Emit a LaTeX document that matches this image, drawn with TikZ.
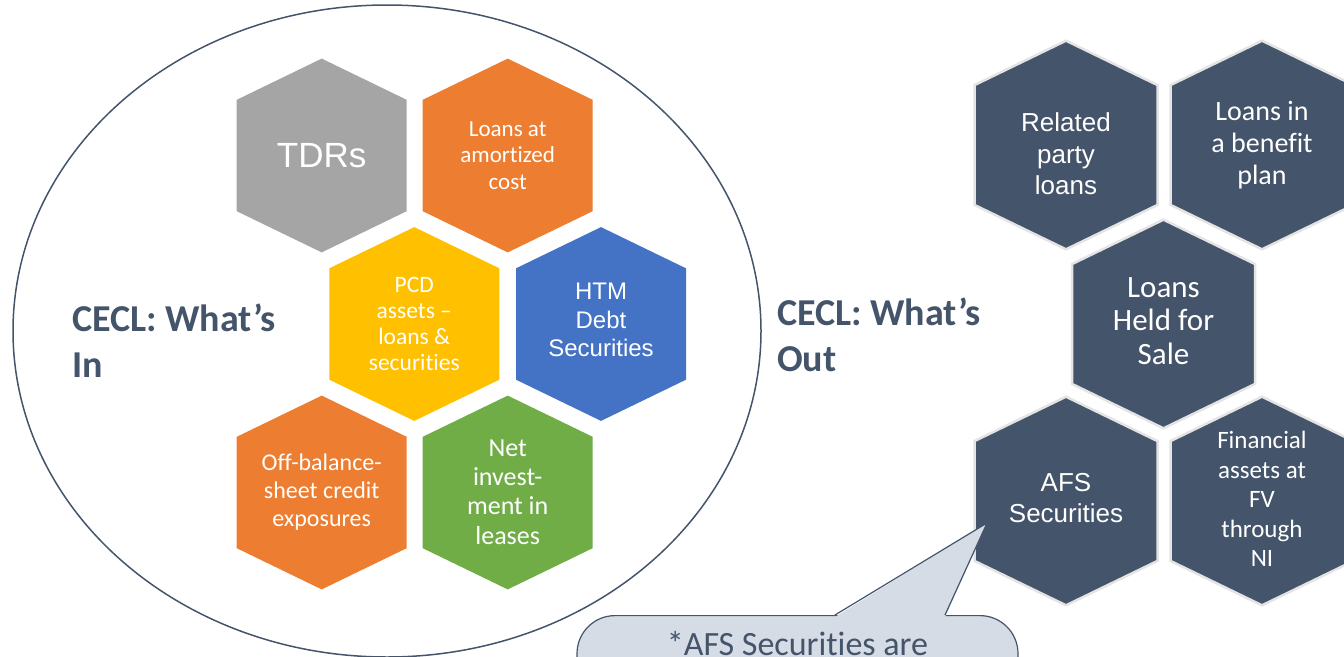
\documentclass[tikz,border=0pt]{standalone}
\usepackage{fontspec}
\setmainfont{Carlito}[Ligatures={TeX,NoCommon}]
\newfontfamily\arialfont{Liberation Sans}
\usepackage{xcolor}
\definecolor{slate}{RGB}{68,84,106}
\definecolor{tdrgrey}{RGB}{165,165,165}
\definecolor{tangerine}{RGB}{237,125,49}
\definecolor{amber}{RGB}{255,192,0}
\definecolor{steel}{RGB}{68,114,196}
\definecolor{leaf}{RGB}{112,173,71}
\definecolor{mist}{RGB}{214,220,229}
\definecolor{rim}{RGB}{228,228,228}
\usetikzlibrary{positioning}

% pointy-topped cell around a centre, #2 = half width
\newcommand{\hexcell}[2]{(#1) +(0,-1.14*#2) -- +(#2,-0.655*#2) -- +(#2,0.655*#2)
  -- +(0,1.14*#2) -- +(-#2,0.655*#2) -- +(-#2,-0.655*#2) -- cycle}
\newcommand{\fsz}[2]{\fontsize{#1}{#2}\selectfont}

\begin{document}
\begin{tikzpicture}[x=1pt, y=-1pt,
  celltext/.style={text=white, align=center, inner sep=0pt},
  outcell/.style={fill=slate, draw=rim, line width=2.5pt},
  heading/.style={text=slate, font=\bfseries\fsz{38}{46}, align=left, inner sep=0pt, anchor=west},
  ring/.style={draw=slate, line width=1.5pt},
  notebox/.style={fill=mist, draw=slate, line width=1.2pt, rounded corners=38pt, anchor=north,
    minimum width=441pt, text=slate, font=\fsz{34}{40}, text height=26pt, text depth=60pt, inner ysep=14pt}
]
\useasboundingbox (0,0) rectangle (1344,656);

% what is in
\draw[ring] (387,331) ellipse [x radius=374pt, y radius=326pt];
\node[heading] (inlabel) at (72,341) {CECL: What’s\\In};

\fill[tdrgrey] \hexcell{321.7,155.5}{85};
\fill[tangerine] \hexcell{507.7,155.5}{85};
\fill[amber] \hexcell{414.3,324}{85};
\fill[steel] \hexcell{601,324}{85};
\fill[tangerine] \hexcell{321.7,492.5}{85};
\fill[leaf] \hexcell{507.7,492.5}{85};

\node[celltext, font=\arialfont\fsz{35}{40}] (tdr) at (321.7,155.5) {TDRs};
\node[celltext, font=\fsz{23}{26.3}] (amort) at (507.7,155.5) {Loans at\\amortized\\cost};
\node[celltext, font=\fsz{23.5}{26.3}] (pcd) at (414.3,324) {PCD\\assets –\\loans \&\\securities};
\node[celltext, font=\arialfont\fsz{24}{28.2}] (htm) at (601,320) {HTM\\Debt\\Securities};
\node[celltext, font=\fsz{24}{28.3}] (offbs) at (321.7,492) {Off-balance-\\sheet credit\\exposures};
\node[celltext, font=\fsz{26}{29.3}] (lease) at (507.7,492) {Net\\invest-\\ment in\\leases};

% what is out
\node[heading] (outlabel) at (777,335) {CECL: What’s\\Out};

\path[outcell] \hexcell{1066,145}{91.5};
\path[outcell] \hexcell{1262,145}{91.5};
\path[outcell] \hexcell{1163.5,324}{91.5};
\path[outcell] \hexcell{1066,501}{91.5};
\path[outcell] \hexcell{1262,501}{91.5};

\node[celltext, font=\arialfont\fsz{26}{31.4}] (related) at (1066,154) {Related\\party\\loans};
\node[celltext, font=\fsz{28}{32}] (benefit) at (1262,145) {Loans in\\a benefit\\plan};
\node[celltext, font=\fsz{31}{33.5}] (hfs) at (1163.5,321) {Loans\\Held for\\Sale};
\node[celltext, font=\arialfont\fsz{26}{31}] (afs) at (1066,498) {AFS\\Securities};
\node[celltext, font=\fsz{25}{29.5}] (fvni) at (1262,499) {Financial\\assets at\\FV\\through\\NI};

% note on AFS
\node[notebox] (note) at (797.5,615) {*AFS Securities are};
\coordinate (tip) at (987,523);
\coordinate (baseL) at ([xshift=37.5pt]note.north);
\coordinate (baseR) at ([xshift=147.5pt]note.north);
\fill[mist] ([yshift=-2pt]baseL) -- (tip) -- ([yshift=-2pt]baseR) -- cycle;
\draw[slate, line width=1.2pt, line join=miter] (baseL) -- (tip) -- (baseR);
\end{tikzpicture}
\end{document}
